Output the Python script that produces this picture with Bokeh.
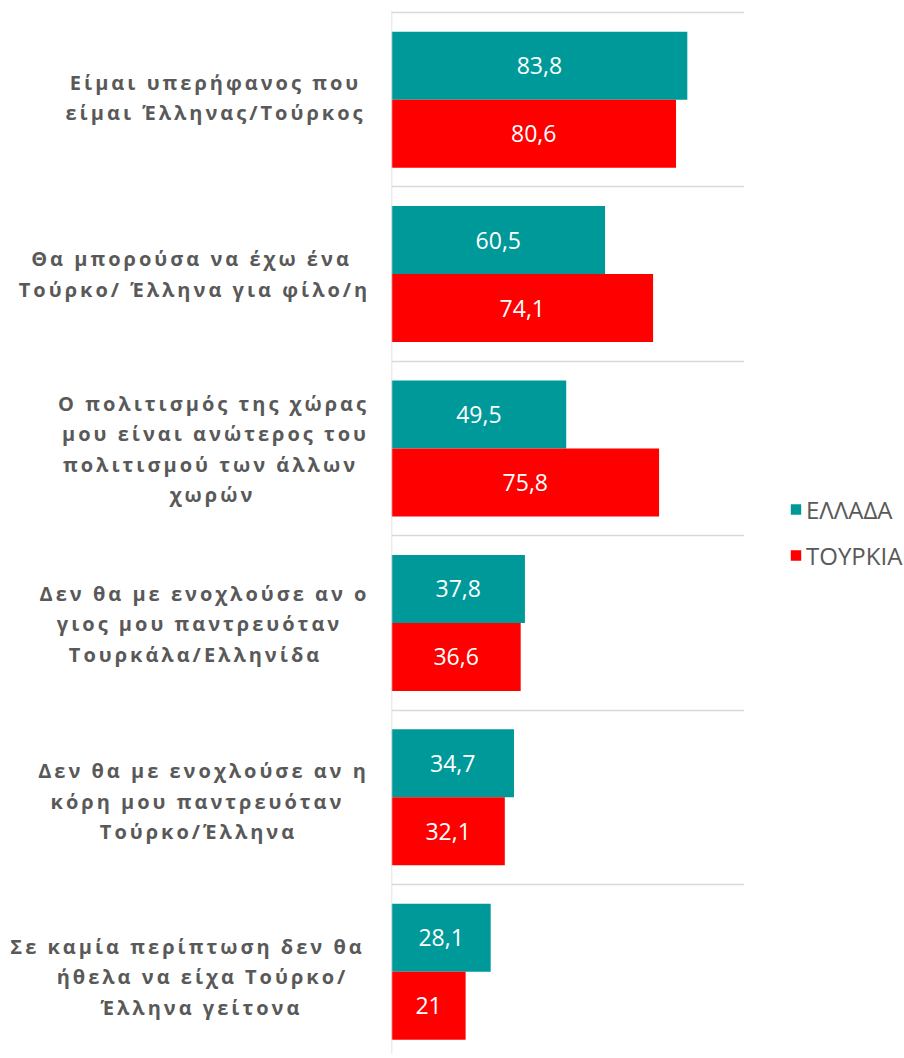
import numpy as np
from bokeh.plotting import figure
from bokeh.models import ColumnDataSource, Range1d, Span, Legend, LegendItem, FixedTicker
from bokeh.layouts import row
from bokeh.embed import file_html
from bokeh.resources import INLINE
from bokeh.core.properties import value

# ---------------- data ----------------
categories = [
    "Είμαι υπερήφανος που\nείμαι Έλληνας/Τούρκος",
    "Θα μπορούσα να έχω ένα\nΤούρκο/ Έλληνα για φίλο/η",
    "Ο πολιτισμός της χώρας\nμου είναι ανώτερος του\nπολιτισμού των άλλων\nχωρών",
    "Δεν θα με ενοχλούσε αν ο\nγιος μου παντρευόταν\nΤουρκάλα/Ελληνίδα",
    "Δεν θα με ενοχλούσε αν η\nκόρη μου παντρευόταν\nΤούρκο/Έλληνα",
    "Σε καμία περίπτωση δεν θα\nήθελα να είχα Τούρκο/\nΈλληνα γείτονα",
]
series_names = ["ΕΛΛΑΔΑ", "ΤΟΥΡΚΙΑ"]
greece = [83.8, 60.5, 49.5, 37.8, 34.7, 28.1]
turkey = [80.6, 74.1, 75.8, 36.6, 32.1, 21]

# ---------------- layout / style ----------------
TEAL = "#009999"
RED = "#FF0000"
TXT = "#595959"
GRID = "#d9d9d9"
H = 1054
LEFT_W, MAIN_W, LEG_W = 391, 353, 160
TOP = 10          # frame top (px); first category boundary sits at 12 px
FIRST = 12
CAT_PX = 174.4
LS = 3.0          # letter spacing of category labels (px)
LINE_PX = 30.4    # line spacing of category labels (px)
label_centers = [215, 191, 211, 198, 198, 197]   # x of label block centres (px)
label_dy = [-2, 0, 0.5, 1, 4, 5]                 # vertical nudges of label blocks (px)
label_dx = [[0, 0], [0, 3], [2, 4, -1, 1], [6, 1, -3], [5, -1, 0], [-10, 5, 4]]  # per-line nudges

n = len(categories)
y_top = -(FIRST - TOP) / CAT_PX
yr = Range1d(start=y_top + (H - TOP) / CAT_PX, end=y_top)
centers = np.arange(n) + 0.5
BAR_H = 0.39


def fmt(v):
    return f"{v:g}".replace(".", ",")


def bare(fig):
    fig.xaxis.visible = False
    fig.yaxis.visible = False
    fig.xgrid.visible = False
    fig.ygrid.visible = False
    fig.outline_line_color = None
    fig.background_fill_color = "white"
    fig.border_fill_color = "white"


src = ColumnDataSource(dict(
    y_gr=centers - BAR_H / 2,
    y_tr=centers + BAR_H / 2,
    greece=greece,
    turkey=turkey,
    gx=[v / 2 for v in greece],
    tx=[v / 2 for v in turkey],
    glab=[fmt(v) for v in greece],
    tlab=[fmt(v) for v in turkey],
))

# ---------------- main (bars) figure ----------------
p = figure(width=MAIN_W, height=H, x_range=Range1d(0, 100), y_range=yr,
           output_backend="svg", toolbar_location=None,
           min_border_left=0, min_border_right=0, min_border_top=TOP, min_border_bottom=0)
bare(p)
p.ygrid.visible = True
p.ygrid.ticker = FixedTicker(ticks=list(range(n)))
p.ygrid.grid_line_color = GRID
p.ygrid.grid_line_width = 1.5

p.hbar(y="y_gr", left=0, right="greece", height=BAR_H, fill_color=TEAL, line_color=None, source=src)
p.hbar(y="y_tr", left=0, right="turkey", height=BAR_H, fill_color=RED, line_color=None, source=src)

p.text(x="gx", y="y_gr", text="glab", source=src, text_align="center", text_baseline="middle",
       text_color="white", text_font=value("Open Sans"), text_font_size="23px")
p.text(x="tx", y="y_tr", text="tlab", source=src, text_align="center", text_baseline="middle",
       text_color="white", text_font=value("Open Sans"), text_font_size="23px")

p.add_layout(Span(location=0, dimension="height", line_color=GRID, line_width=1.5))

# ---------------- legend figure ----------------
pg = figure(width=LEG_W, height=H, x_range=Range1d(0, 1), y_range=yr,
            output_backend="svg", toolbar_location=None,
            min_border_left=0, min_border_right=0, min_border_top=TOP, min_border_bottom=0)
bare(pg)
lg1 = pg.hbar(y="y_gr", left=0, right="greece", height=BAR_H, fill_color=TEAL, line_color=None,
              source=src, visible=False)
lg2 = pg.hbar(y="y_tr", left=0, right="turkey", height=BAR_H, fill_color=RED, line_color=None,
              source=src, visible=False)
legend = Legend(items=[LegendItem(label=series_names[0], renderers=[lg1]),
                       LegendItem(label=series_names[1], renderers=[lg2])],
                location="center_left", orientation="vertical",
                label_text_font="Open Sans", label_text_font_size="24px", label_text_color=TXT,
                glyph_width=13, glyph_height=13, label_standoff=4, spacing=13,
                inactive_fill_alpha=0,
                border_line_color=None, background_fill_alpha=0, margin=45, padding=10)
pg.add_layout(legend)

# ---------------- label figure ----------------
pl = figure(width=LEFT_W, height=H, x_range=Range1d(0, LEFT_W), y_range=yr,
            output_backend="svg", toolbar_location=None,
            min_border_left=0, min_border_right=0, min_border_top=TOP, min_border_bottom=0)
bare(pl)
pl.styles = {"letter-spacing": f"{LS}px"}

lx, ly, lt, lxo, lyo = [], [], [], [], []
for k, cat in enumerate(categories):
    lines = cat.split("\n")
    m = len(lines)
    for i, line in enumerate(lines):
        lx.append(label_centers[k])
        ly.append(centers[k])
        lt.append(line)
        lxo.append(-len(line) * LS / 2 + label_dx[k][i])
        lyo.append((i - (m - 1) / 2) * LINE_PX + label_dy[k])

lsrc = ColumnDataSource(dict(x=lx, y=ly, text=lt, xo=lxo, yo=lyo))
pl.text(x="x", y="y", text="text", x_offset="xo", y_offset="yo", source=lsrc,
        text_align="center", text_baseline="middle", text_color=TXT,
        text_font=value("Open Sans"), text_font_style="bold", text_font_size="20px")

layout = row(pl, p, pg)
open("out.html", "w").write(file_html(layout, INLINE))
